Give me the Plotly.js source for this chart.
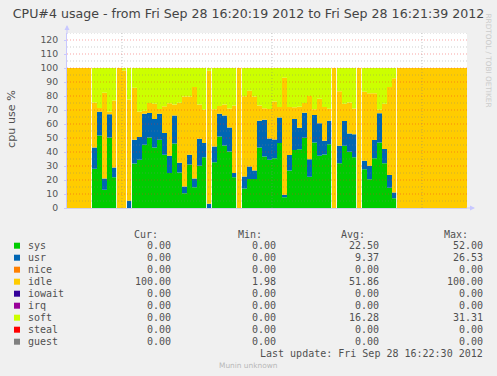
<!DOCTYPE html>
<html>
<head>
<meta charset="utf-8">
<script src="https://cdn.plot.ly/plotly-3.0.1.min.js"></script>
<style>
  html, body { margin: 0; padding: 0; background: #F0F0F0; }
  #chart { width: 497px; height: 376px; }
</style>
</head>
<body>
<div id="chart"></div>
<script>
// ---- Data (one sample per second) ----
const day = '2012-09-28';
const startClock = [16, 20, 19];   // first sample time
const sampleSeconds = 1;

const sys = [0,0,0,0,0, 28.0,51.7,13.1,50.3,21.9, 0,0,0,31.7,34.5, 45.2,50.4,43.3,48.8,38.0,
             25.0,46.0,25.3,10.6,31.0, 14.9,30.2,36.2,0,32.6, 51.0,44.6,40.3,21.9,0, 14.0,20.7,20.7,43.2,36.7,
             34.4,35.6,46.5,7.7,26.7, 41.4,41.9,50.2,22.4,46.7, 37.4,38.3,45.5,0,31.9, 44.5,40.2,36.2,0,27.6,
             20.5,35.5,46.7,31.9,14.5, 6.9,0,0,0,0, 0,0,0,0,0, 0,0,0,0,0];
const usr = [0,0,0,0,0, 15.2,17.1,7.9,16.6,7.0, 0,0,5.1,17.1,16.2, 22.2,17.4,20.2,18.6,15.5,
             12.4,20.0,7.0,4.8,7.0, 6.1,19.3,10.3,3.1,11.3, 16.3,21.4,17.2,3.1,0, 8.5,8.9,6.1,19.1,26.3,
             15.2,13.4,18.1,1.7,11.2, 22.2,15.5,17.9,12.4,19.7, 23.1,9.8,16.9,0,12.6, 17.6,13.1,16.4,0,6.2,
             9.7,13.1,20.9,10.2,9.1, 4.1,0,0,0,0, 0,0,0,0,0, 0,0,0,0,0];
const idle = [100,100,100,100,100, 32.2,2.6,61.4,1.98,47.9, 100,98.2,72.4,37.1,18.3, 2.0,7.2,11.0,3.3,19.1,
              37.4,8.0,42.9,64.2,41.6, 65.5,24.5,23.6,94.9,26.6, 5.6,8.0,13.5,48.3,100, 57.4,54.2,52.8,11.0,8.2,
              21.2,27.0,7.6,83.6,34.3, 8.4,15.0,6.9,45.2,4.2, 17.6,24.0,8.5,100,38.9, 12.4,22.1,18.4,100,49.2,
              51.7,33.3,2.6,32.4,62.9, 81.7,100,100,100,100, 100,100,100,100,100, 100,100,100,100,100];
const soft = [0,0,0,0,0, 24.6,28.6,17.6,31.12,23.2, 0,1.8,22.5,14.1,31.0, 30.6,25.0,25.5,29.3,27.4,
              25.2,26.0,24.8,20.4,20.4, 13.5,26.0,29.9,2.0,29.5, 27.1,26.0,29.0,26.7,0, 20.1,16.2,20.4,26.7,28.8,
              29.2,24.0,27.8,7.0,27.8, 28.0,27.6,25.0,20.0,29.4, 21.9,27.9,29.1,0,16.6, 25.5,24.6,29.0,0,17.0,
              18.1,18.1,29.8,25.5,13.5, 7.3,0,0,0,0, 0,0,0,0,0, 0,0,0,0,0];
const zeros = sys.map(() => 0);
const nice = zeros, iowait = zeros, irq = zeros, steal = zeros, guest = zeros;

// Legend table values
const seriesNames = ['sys', 'usr', 'nice', 'idle', 'iowait', 'irq', 'soft', 'steal', 'guest'];
const curVals = ['0.00', '0.00', '0.00', '100.00', '0.00', '0.00', '0.00', '0.00', '0.00'];
const minVals = ['0.00', '0.00', '0.00', '1.98', '0.00', '0.00', '0.00', '0.00', '0.00'];
const avgVals = ['22.50', '9.37', '0.00', '51.86', '0.00', '0.00', '16.28', '0.00', '0.00'];
const maxVals = ['52.00', '26.53', '0.00', '100.00', '0.00', '0.00', '31.31', '0.00', '0.00'];
const columnHeads = ['Cur:', 'Min:', 'Avg:', 'Max:'];

const titleText = 'CPU#4 usage - from Fri Sep 28 16:20:19 2012 to Fri Sep 28 16:21:39 2012';
const yTitle = 'cpu use %';
const lastUpdate = 'Last update: Fri Sep 28 16:22:30 2012';
const footer = 'Munin unknown';
const watermark = 'RRDTOOL / TOBI OETIKER';
const gridTimes = ['16:20:30', '16:21:00', '16:21:30'];

// ---- Styles ----
const colors = {
  sys: '#00CC00', usr: '#0066B3', nice: '#FF8000', idle: '#FFCC00', iowait: '#330099',
  irq: '#990099', soft: '#CCFF00', steal: '#FF0000', guest: '#808080'
};
const seriesData = { sys, usr, nice, idle, iowait, irq, soft, steal, guest };

// ---- helpers ----
function pad(n) { return (n < 10 ? '0' : '') + n; }
function stamp(secOffset) {
  const base = startClock[0] * 3600 + startClock[1] * 60 + startClock[2];
  const t = base + secOffset;
  const h = Math.floor(t / 3600), m = Math.floor((t % 3600) / 60);
  const s = t - h * 3600 - m * 60;
  const si = Math.floor(s), frac = s - si;
  let str = day + ' ' + pad(h) + ':' + pad(m) + ':' + pad(si);
  if (frac > 1e-9) str += '.' + Math.round(frac * 1000).toString().padStart(3, '0');
  return str;
}
const n = sys.length;
const xs = [];
for (let i = 0; i <= n; i++) xs.push(stamp(i * sampleSeconds));

const traces = seriesNames.map(name => {
  const arr = seriesData[name];
  return {
    type: 'scatter', mode: 'lines', name,
    x: xs, y: arr.concat([arr[arr.length - 1]]),
    stackgroup: 'cpu',
    line: { shape: 'hv', width: 0, color: colors[name] },
    fillcolor: colors[name],
    hoverinfo: 'skip', showlegend: false
  };
});

// geometry (pixels) for paper-coordinate conversions
const W = 497, H = 376;
const mL = 67, mR = 30, mT = 33, mB = 168;
const pw = W - mL - mR, ph = H - mT - mB;
const px = x => (x - mL) / pw;
const py = y => (H - mB - y) / ph;

const shapes = [];
// thin white seams where the cpu-busy areas start/stop
for (let i = 1; i < n; i++) {
  const a = sys[i - 1] + usr[i - 1], b = sys[i] + usr[i];
  const s1 = sys[i - 1] > 0, s2 = sys[i] > 0;
  if (((a > 0) !== (b > 0)) || (s1 !== s2)) {
    const xb = stamp(i * sampleSeconds - 0.1);
    shapes.push({ type: 'line', xref: 'x', yref: 'y', x0: xb, x1: xb, y0: 0, y1: 100,
                  line: { color: 'rgba(255,255,255,0.85)', width: 1 }, layer: 'above' });
  }
}
// grid drawn over the data (like rrdtool)
for (let v = 5; v <= 125; v += 5) {
  const major = v % 10 === 0;
  shapes.push({ type: 'line', xref: 'paper', yref: 'y', x0: 0, x1: 1, y0: v, y1: v,
    line: { color: major ? 'rgba(240,40,40,0.42)' : 'rgba(130,130,130,0.38)', width: 1, dash: '1px,2px' },
    layer: 'above' });
}
gridTimes.forEach(t => {
  const xt = day + ' ' + t;
  shapes.push({ type: 'line', xref: 'x', yref: 'paper', x0: xt, x1: xt, y0: 0, y1: 1,
    line: { color: 'rgba(130,130,130,0.45)', width: 1, dash: '1px,2px' }, layer: 'above' });
});

// legend squares
const rowY0 = 245.7, rowDy = 12;
seriesNames.forEach((name, i) => {
  const cy = rowY0 + i * rowDy;
  shapes.push({ type: 'rect', xref: 'paper', yref: 'paper',
    x0: px(14), x1: px(20), y0: py(cy + 3), y1: py(cy - 3),
    fillcolor: colors[name], line: { width: 0 } });
});

const mono = 'DejaVu Sans Mono';
const txtColor = '#505050';
const annotations = [];
const colRight = [172, 276.5, 379.5, 483.5];
const headRight = [158.5, 263, 365.5, 469];
columnHeads.forEach((h, j) => {
  annotations.push({ xref: 'paper', yref: 'paper', x: px(headRight[j] + 1), y: py(234),
    xanchor: 'right', yanchor: 'middle', showarrow: false, text: h,
    font: { family: mono, size: 10, color: txtColor } });
});
seriesNames.forEach((name, i) => {
  const cy = rowY0 + i * rowDy;
  annotations.push({ xref: 'paper', yref: 'paper', x: px(25.5), y: py(cy),
    xanchor: 'left', yanchor: 'middle', showarrow: false, text: name,
    font: { family: mono, size: 10, color: txtColor } });
  [curVals, minVals, avgVals, maxVals].forEach((col, j) => {
    annotations.push({ xref: 'paper', yref: 'paper', x: px(colRight[j] + 1), y: py(cy),
      xanchor: 'right', yanchor: 'middle', showarrow: false, text: col[i],
      font: { family: mono, size: 10, color: txtColor } });
  });
});
annotations.push({ xref: 'paper', yref: 'paper', x: px(484.5), y: py(353.3),
  xanchor: 'right', yanchor: 'middle', showarrow: false, text: lastUpdate,
  font: { family: mono, size: 10, color: txtColor } });
annotations.push({ xref: 'paper', yref: 'paper', x: px(248), y: py(365),
  xanchor: 'center', yanchor: 'middle', showarrow: false, text: footer,
  font: { family: 'DejaVu Sans', size: 7.4, color: '#b8b8b8' } });
annotations.push({ xref: 'paper', yref: 'paper', x: px(488), y: py(60.5),
  xanchor: 'center', yanchor: 'middle', showarrow: false, text: watermark, textangle: 90,
  font: { family: 'DejaVu Sans', size: 7.3, color: '#cccccc' } });
annotations.push({ xref: 'paper', yref: 'paper', x: px(11), y: py(119),
  xanchor: 'center', yanchor: 'middle', showarrow: false, text: yTitle, textangle: -90,
  font: { family: 'DejaVu Sans', size: 11.2, color: txtColor } });
// axis arrows
annotations.push({ xref: 'paper', yref: 'paper', x: px(67), y: py(25), ax: 0, ay: 10,
  text: '', showarrow: true, arrowhead: 2, arrowsize: 1, arrowwidth: 1, arrowcolor: '#c8c8ff' });
annotations.push({ xref: 'paper', yref: 'paper', x: px(475), y: py(208), ax: -10, ay: 0,
  text: '', showarrow: true, arrowhead: 2, arrowsize: 1, arrowwidth: 1, arrowcolor: '#c8c8ff' });

const layout = {
  width: W, height: H,
  margin: { l: mL, r: mR, t: mT, b: mB, pad: 0 },
  paper_bgcolor: '#F0F0F0', plot_bgcolor: '#FFFFFF',
  showlegend: false,
  title: { text: titleText, x: 0.5, xanchor: 'center', y: (H - 14) / H, yanchor: 'middle',
           font: { family: 'DejaVu Sans', size: 12.6, color: '#444444' } },
  xaxis: {
    type: 'date', range: [xs[0], xs[n]], showticklabels: false, ticks: '',
    showgrid: false, zeroline: false, showline: true, linecolor: '#d0d0e8', linewidth: 1, fixedrange: true
  },
  yaxis: {
    range: [0, 125], tickmode: 'linear', tick0: 0, dtick: 10, showgrid: false, zeroline: false,
    showline: true, linecolor: '#c8c8ff', linewidth: 1, ticks: 'outside', ticklen: 2, tickcolor: '#c8c8ff',
    ticklabelstandoff: 4,
    tickfont: { family: 'DejaVu Sans', size: 9.3, color: '#555555' }, fixedrange: true
  },
  shapes, annotations
};

Plotly.newPlot('chart', traces, layout, { staticPlot: true, displayModeBar: false });
</script>
</body>
</html>
